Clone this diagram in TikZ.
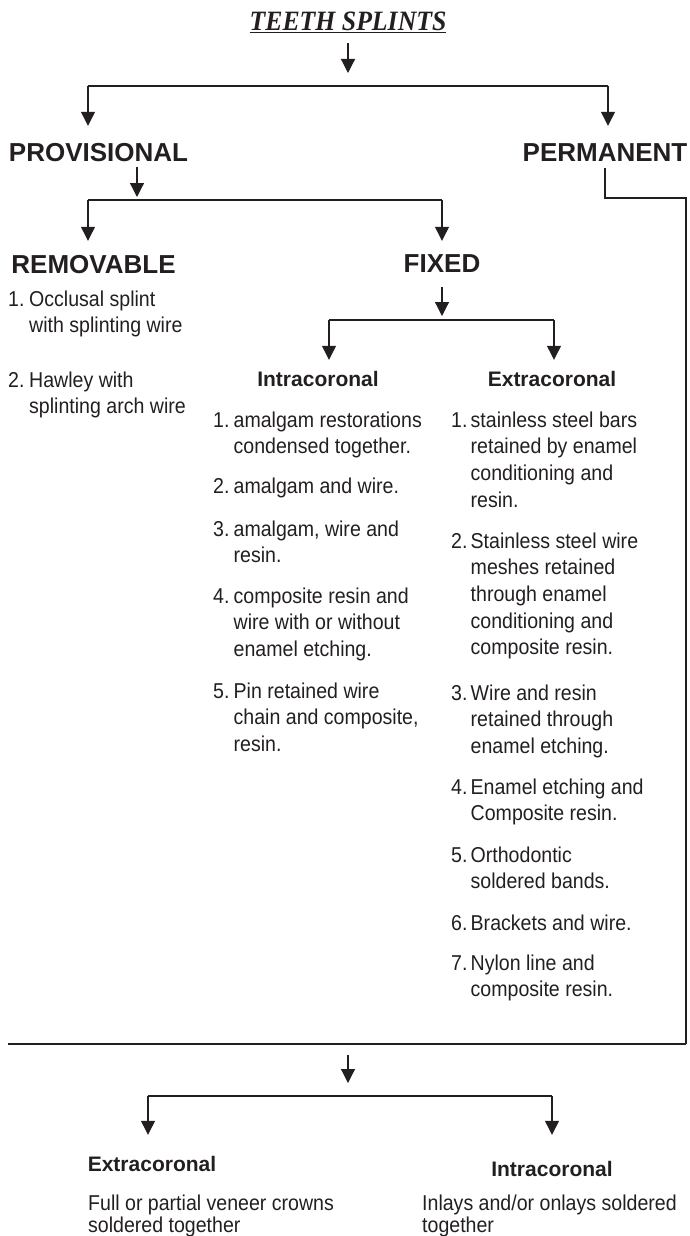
\documentclass[tikz,border=0pt]{standalone}
\usepackage{fontspec}
\setmainfont{Liberation Sans}
\newfontfamily\bodyfont[FakeStretch=0.91]{Liberation Sans}
\newfontfamily\titlefont[FakeStretch=0.92]{Liberation Serif}
\usetikzlibrary{arrows.meta}
\definecolor{ink}{HTML}{231F20}
\newcommand{\itm}[3]{\begin{tabular}[t]{@{}l@{}l@{}}\makebox[#1][l]{#2}&#3\end{tabular}}
\begin{document}
\begin{tikzpicture}[x=1pt,y=-1pt,
  line/.style={draw=ink, line width=1.2pt},
  arr/.style={line, -{Triangle[width=14pt,length=14pt]}},
  big/.style={font=\fontsize{26}{30}\selectfont\bfseries, text=ink, inner sep=0pt, anchor=base},
  hd/.style={font=\fontsize{21}{26}\selectfont\bfseries, text=ink, inner sep=0pt, anchor=base},
  body/.style={font=\bodyfont\fontsize{21.5}{26.7}\selectfont, text=ink, inner sep=0pt, anchor=base west},
  foot/.style={font=\bodyfont\fontsize{21.5}{22.5}\selectfont, text=ink, inner sep=0pt, anchor=base west}]
\useasboundingbox (0,0) rectangle (689,1236);

% title
\node[font=\titlefont\fontsize{28}{32}\selectfont\bfseries\itshape, text=ink, inner sep=0pt, anchor=base, text depth=12pt] (title) at (348,31) {\underline{TEETH SPLINTS}};

% headings
\node[big, text height=35pt, text depth=6pt] (prov) at (98.5,161) {PROVISIONAL};
\node[big, text height=35pt, text depth=7pt] (perm) at (605,161) {PERMANENT};
\node[big, text height=32pt] (rem) at (93.5,273) {REMOVABLE};
\node[big, text height=31pt, text depth=15pt] (fix) at (442,272) {FIXED};
\node[hd, text height=26pt] (intra) at (318,386) {Intracoronal};
\node[hd, text height=26pt] (extra) at (552,386) {Extracoronal};
\node[hd, text height=36pt] (exb) at (152,1171) {Extracoronal};
\node[hd, text height=41pt] (inb) at (552,1176) {Intracoronal};

% removable list
\node[body] (r1) at (8,306) {\itm{21pt}{1.}{Occlusal splint\\&with splinting wire}};
\node[body] (r2) at (8,387) {\itm{21pt}{2.}{Hawley with\\&splinting arch wire}};

% intracoronal list
\node[body] (i1) at (213,427) {\itm{20.5pt}{1.}{amalgam restorations\\&condensed together.}};
\node[body] (i2) at (213,493) {\itm{20.5pt}{2.}{amalgam and wire.}};
\node[body] (i3) at (213,536) {\itm{20.5pt}{3.}{amalgam, wire and\\&resin.}};
\node[body] (i4) at (213,603) {\itm{20.5pt}{4.}{composite resin and\\&wire with or without\\&enamel etching.}};
\node[body] (i5) at (213,698) {\itm{20.5pt}{5.}{Pin retained wire\\&chain and composite,\\&resin.}};

% extracoronal list
\node[body] (e1) at (451,427) {\itm{19.5pt}{1.}{stainless steel bars\\&retained by enamel\\&conditioning and\\&resin.}};
\node[body] (e2) at (451,548) {\itm{19.5pt}{2.}{Stainless steel wire\\&meshes retained\\&through enamel\\&conditioning and\\&composite resin.}};
\node[body] (e3) at (451,700) {\itm{19.5pt}{3.}{Wire and resin\\&retained through\\&enamel etching.}};
\node[body] (e4) at (451,794) {\itm{19.5pt}{4.}{Enamel etching and\\&Composite resin.}};
\node[body] (e5) at (451,862) {\itm{19.5pt}{5.}{Orthodontic\\&soldered bands.}};
\node[body] (e6) at (451,930) {\itm{19.5pt}{6.}{Brackets and wire.}};
\node[body] (e7) at (451,970) {\itm{19.5pt}{7.}{Nylon line and\\&composite resin.}};

% bottom texts
\node[foot] (fb1) at (88,1210) {\begin{tabular}[t]{@{}l@{}}Full or partial veneer crowns\\soldered together\end{tabular}};
\node[foot] (fb2) at (422,1210) {\begin{tabular}[t]{@{}l@{}}Inlays and/or onlays soldered\\together\end{tabular}};

% connectors
\coordinate (t1) at (348,73);
\draw[arr] (title.south) -- (t1);
\coordinate (k1L) at (88,86);
\coordinate (k1R) at (608,86);
\draw[line] (k1L) -- (k1R);
\draw[arr] (k1L) -- (k1L |- prov.north);
\draw[arr] (k1R) -- (k1R |- perm.north);

\coordinate (p2) at (137,197);
\draw[arr] (prov.south -| p2) -- (p2);
\coordinate (k2L) at (88,200);
\coordinate (k2R) at (442,200);
\draw[line] (k2L) -- (k2R);
\draw[arr] (k2L) -- (k2L |- rem.north);
\draw[arr] (k2R) -- (k2R |- fix.north);

\coordinate (f2) at (442,316);
\draw[arr] (fix.south) -- (f2);
\coordinate (k3L) at (329,320);
\coordinate (k3R) at (554,320);
\draw[line] (k3L) -- (k3R);
\draw[arr] (k3L) -- (k3L |- intra.north);
\draw[arr] (k3R) -- (k3R |- extra.north);

\coordinate (c1) at (686,198);
\coordinate (c2) at (686,1044);
\coordinate (c3) at (8,1044);
\draw[line] (perm.south) |- (c1) -- (c2);
\draw[line, line width=2.2pt] (c2) -- (c3);

\coordinate (d0) at (348,1055);
\coordinate (d1) at (348,1083);
\draw[arr] (d0) -- (d1);
\coordinate (k4L) at (148,1096);
\coordinate (k4R) at (552,1096);
\draw[line] (k4L) -- (k4R);
\draw[arr] (k4L) -- (k4L |- exb.north);
\draw[arr] (k4R) -- (k4R |- inb.north);
\end{tikzpicture}
\end{document}
